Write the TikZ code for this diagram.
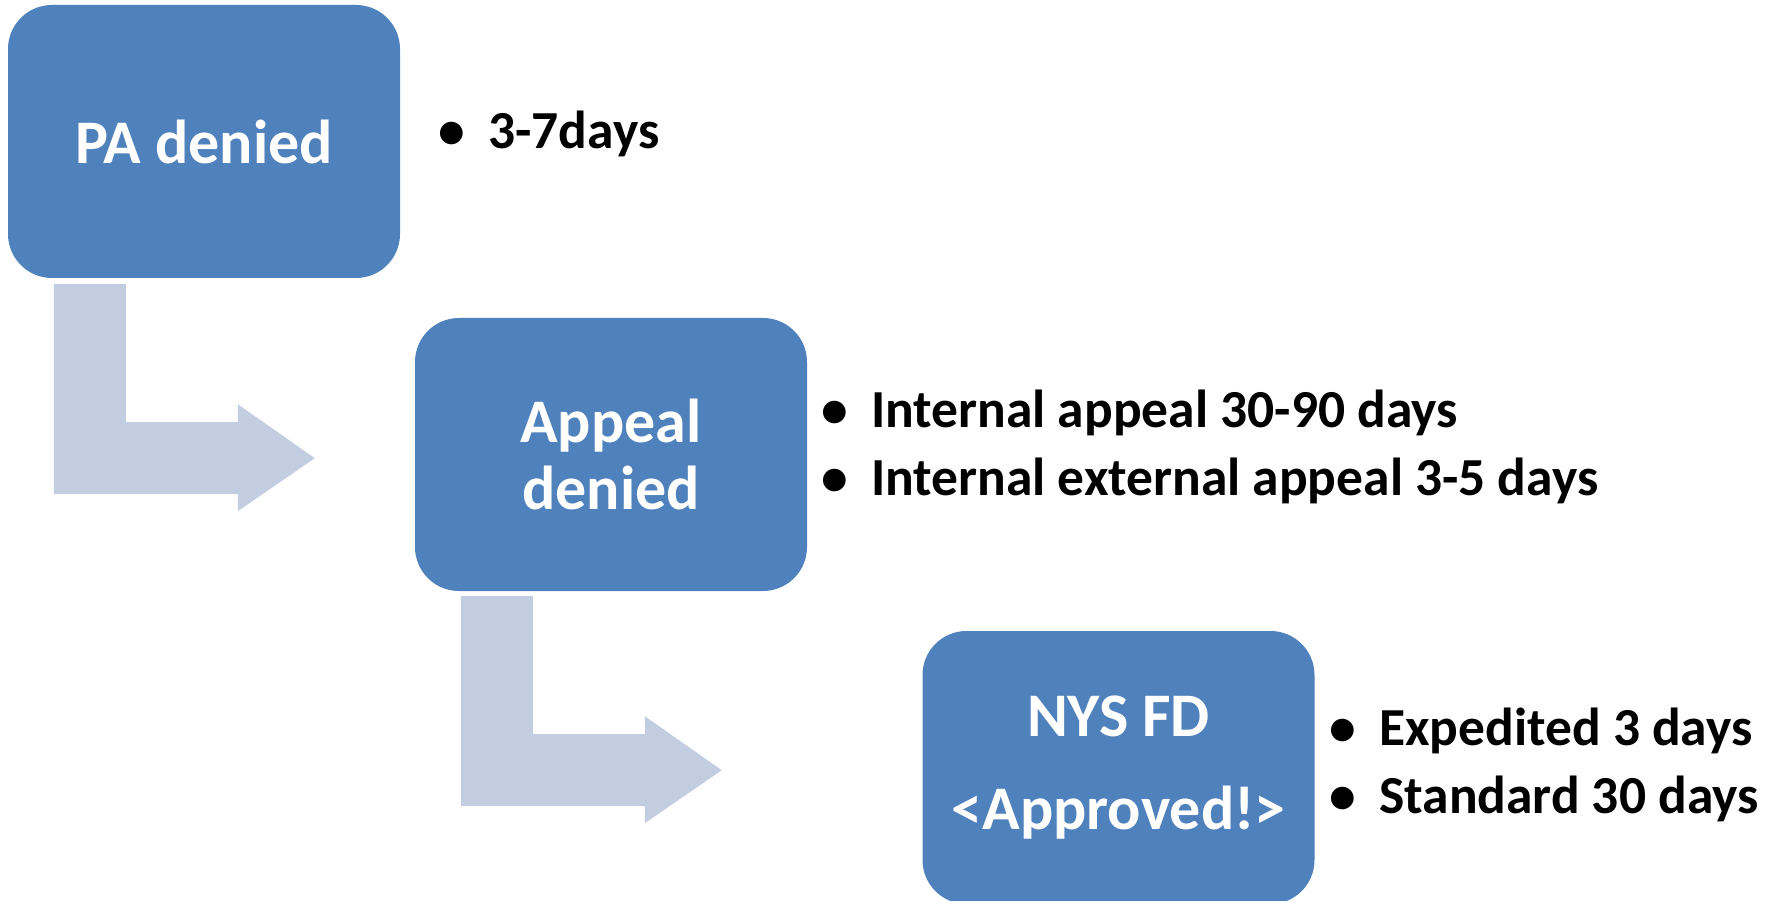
\documentclass[tikz,border=0pt]{standalone}
\usepackage{fontspec}
\setmainfont{Carlito}
\usetikzlibrary{calc}
\definecolor{boxblue}{HTML}{4F81BD}
\definecolor{arrowblue}{HTML}{C3CDE1}
\tikzset{
  stagebox/.style={fill=boxblue, rounded corners=44pt, minimum width=392pt, minimum height=273pt,
    inner sep=0pt, text=white, align=center, font=\bfseries\fontsize{62}{67}\selectfont},
  bulletline/.style={anchor=base west, inner sep=0pt, text=black,
    font=\bfseries\fontsize{53.5}{68}\selectfont},
  bendarrow/.style={fill=arrowblue}
}
\newcommand{\bitem}[1]{\makebox[0pt][c]{•}\hspace{36pt}#1}
\begin{document}
\begin{tikzpicture}[x=1pt,y=-1pt]
\useasboundingbox (0,0) rectangle (1770,901);
\node[stagebox] (b1) at (204,141.5) {PA denied};
\node[stagebox] (b2) at (611,454.5) {Appeal\\denied};
\node[stagebox, font=\bfseries\fontsize{62}{93}\selectfont] (b3) at (1118.5,767.5) {NYS FD\\<Approved!>};
\node[bulletline] (l1) at (452,149) {\bitem{3-7days}};
\node[bulletline] (l2a) at (835,427) {\bitem{Internal appeal 30-90 days}};
\node[bulletline] (l2b) at (835,495) {\bitem{Internal external appeal 3-5 days}};
\node[bulletline] (l3a) at (1343,745) {\bitem{Expedited 3 days}};
\node[bulletline] (l3b) at (1343,813) {\bitem{Standard 30 days}};
\fill[bendarrow] ($(b1.south west)+(46,6)$) -- ++(72,0) -- ++(0,138) -- ++(112,0) -- ++(0,-18)
  -- ++(77,54) -- ++(-77,53) -- ++(0,-17) -- ++(-184,0) -- cycle;
\fill[bendarrow] ($(b2.south west)+(46,5)$) -- ++(72,0) -- ++(0,138) -- ++(112,0) -- ++(0,-18)
  -- ++(77,54) -- ++(-77,53) -- ++(0,-17) -- ++(-184,0) -- cycle;
\end{tikzpicture}
\end{document}
